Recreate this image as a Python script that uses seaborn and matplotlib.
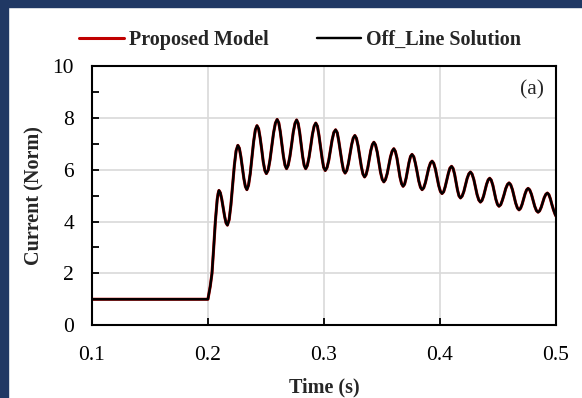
"""
Current response after the disturbance: proposed model vs off-line solution.
"""

import numpy as np
import pandas as pd
import matplotlib
matplotlib.use('Agg')
import matplotlib.pyplot as plt
from matplotlib.patches import Rectangle
from matplotlib.ticker import MultipleLocator
import seaborn as sns

# Pre-disturbance steady state
t_pre = [0.1000, 0.2000]
i_pre = [1.00, 1.00]

# Initial rise right after t = 0.2 s
t_rise = [0.2020, 0.2035, 0.2050, 0.2064, 0.2080, 0.2088]
i_rise = [1.50, 2.00, 3.00, 4.00, 4.85, 5.08]

# Oscillating part: one row per half cycle
# (extremum first, then the flank down/up to the next extremum)
t_osc = [
    0.2095, 0.2107, 0.2119, 0.2132, 0.2144, 0.2156,
    0.2168, 0.2183, 0.2198, 0.2213, 0.2228, 0.2243,
    0.2258, 0.2271, 0.2284, 0.2297, 0.2310, 0.2323,
    0.2336, 0.2350, 0.2365, 0.2380, 0.2394, 0.2409,
    0.2423, 0.2437, 0.2450, 0.2464, 0.2477, 0.2491,
    0.2504, 0.2520, 0.2535, 0.2551, 0.2566, 0.2582,
    0.2597, 0.2611, 0.2624, 0.2638, 0.2651, 0.2665,
    0.2678, 0.2692, 0.2707, 0.2722, 0.2736, 0.2751,
    0.2765, 0.2778, 0.2791, 0.2804, 0.2817, 0.2830,
    0.2843, 0.2857, 0.2872, 0.2887, 0.2901, 0.2916,
    0.2930, 0.2944, 0.2957, 0.2971, 0.2985, 0.2998,
    0.3012, 0.3027, 0.3042, 0.3057, 0.3071, 0.3086,
    0.3101, 0.3115, 0.3128, 0.3142, 0.3156, 0.3169,
    0.3183, 0.3197, 0.3211, 0.3225, 0.3239, 0.3253,
    0.3267, 0.3281, 0.3295, 0.3309, 0.3323, 0.3337,
    0.3351, 0.3364, 0.3378, 0.3391, 0.3404, 0.3418,
    0.3431, 0.3445, 0.3460, 0.3474, 0.3488, 0.3503,
    0.3517, 0.3531, 0.3546, 0.3560, 0.3574, 0.3589,
    0.3603, 0.3616, 0.3630, 0.3643, 0.3656, 0.3670,
    0.3683, 0.3696, 0.3709, 0.3722, 0.3734, 0.3747,
    0.3760, 0.3775, 0.3789, 0.3804, 0.3818, 0.3833,
    0.3847, 0.3861, 0.3876, 0.3890, 0.3904, 0.3919,
    0.3933, 0.3947, 0.3962, 0.3976, 0.3990, 0.4005,
    0.4019, 0.4033, 0.4046, 0.4060, 0.4074, 0.4087,
    0.4101, 0.4114, 0.4127, 0.4140, 0.4152, 0.4165,
    0.4178, 0.4192, 0.4207, 0.4221, 0.4235, 0.4250,
    0.4264, 0.4278, 0.4293, 0.4307, 0.4321, 0.4336,
    0.4350, 0.4363, 0.4377, 0.4390, 0.4403, 0.4417,
    0.4430, 0.4443, 0.4457, 0.4470, 0.4483, 0.4497,
    0.4510, 0.4525, 0.4539, 0.4554, 0.4568, 0.4583,
    0.4597, 0.4611, 0.4626, 0.4640, 0.4654, 0.4669,
    0.4683, 0.4696, 0.4709, 0.4722, 0.4735, 0.4748,
    0.4761, 0.4775, 0.4790, 0.4804, 0.4818, 0.4833,
    0.4847, 0.4860, 0.4874, 0.4887, 0.4900, 0.4914,
    0.4927, 0.4940, 0.4953, 0.4966, 0.4980, 0.4993,
    0.5000,
]
i_osc = [
    5.20, 5.11, 4.87, 4.53, 4.20, 3.95,
    3.86, 4.07, 4.63, 5.40, 6.17, 6.73,
    6.94, 6.83, 6.51, 6.09, 5.66, 5.35,
    5.23, 5.40, 5.85, 6.47, 7.08, 7.54,
    7.70, 7.58, 7.24, 6.78, 6.31, 5.97,
    5.85, 5.99, 6.37, 6.90, 7.42, 7.80,
    7.94, 7.81, 7.47, 6.99, 6.52, 6.17,
    6.04, 6.17, 6.51, 6.98, 7.45, 7.79,
    7.92, 7.79, 7.45, 6.98, 6.51, 6.17,
    6.04, 6.16, 6.48, 6.92, 7.36, 7.68,
    7.80, 7.68, 7.34, 6.89, 6.43, 6.09,
    5.97, 6.08, 6.36, 6.76, 7.15, 7.44,
    7.54, 7.43, 7.12, 6.71, 6.29, 5.98,
    5.87, 5.97, 6.23, 6.60, 6.96, 7.22,
    7.32, 7.21, 6.92, 6.52, 6.12, 5.83,
    5.72, 5.81, 6.06, 6.39, 6.73, 6.97,
    7.06, 6.96, 6.68, 6.30, 5.91, 5.63,
    5.53, 5.62, 5.85, 6.17, 6.49, 6.72,
    6.81, 6.71, 6.45, 6.09, 5.72, 5.46,
    5.36, 5.44, 5.67, 5.98, 6.28, 6.51,
    6.59, 6.50, 6.25, 5.91, 5.57, 5.32,
    5.23, 5.30, 5.51, 5.78, 6.06, 6.26,
    6.33, 6.25, 6.02, 5.71, 5.39, 5.16,
    5.08, 5.15, 5.34, 5.61, 5.87, 6.06,
    6.13, 6.05, 5.83, 5.52, 5.22, 4.99,
    4.91, 4.98, 5.16, 5.41, 5.66, 5.84,
    5.91, 5.83, 5.62, 5.33, 5.04, 4.83,
    4.75, 4.81, 4.98, 5.21, 5.44, 5.61,
    5.67, 5.60, 5.40, 5.13, 4.86, 4.66,
    4.59, 4.65, 4.82, 5.04, 5.27, 5.43,
    5.49, 5.42, 5.23, 4.97, 4.71, 4.52,
    4.45, 4.51, 4.66, 4.87, 5.07, 5.22,
    5.28, 5.22, 5.05, 4.82, 4.59, 4.42,
    4.36, 4.41, 4.55, 4.73, 4.92, 5.05,
    5.10, 5.04, 4.88, 4.66, 4.45, 4.29,
    4.22,
]

series_names = ['Proposed Model', 'Off_Line Solution']
series_colors = ['#c00000', '#000000']

# Both curves lie on top of each other
time = t_pre + t_rise + t_osc
current = i_pre + i_rise + i_osc
df = pd.DataFrame({'Time': time, 'Current': current})

sns.set_style('white')
plt.rcParams['font.family'] = ['Liberation Serif', 'DejaVu Serif']

fig = plt.figure(figsize=(5.82, 3.98), dpi=100)
ax = fig.add_axes([0.158, 0.183, 0.797, 0.651])

# Navy frame along the top and left edge
navy = '#203864'
fig.patches.append(Rectangle((0, 0), 8 / 582, 1, transform=fig.transFigure,
                             color=navy, zorder=0))
fig.patches.append(Rectangle((0, 1 - 7 / 398), 1, 7 / 398, transform=fig.transFigure,
                             color=navy, zorder=0))

line_kw = dict(sort=False, solid_joinstyle='round', solid_capstyle='round')
sns.lineplot(data=df, x='Time', y='Current', ax=ax, color=series_colors[0],
             linewidth=2.2, label=series_names[0], **line_kw)
sns.lineplot(data=df, x='Time', y='Current', ax=ax, color=series_colors[1],
             linewidth=1.75, label=series_names[1], **line_kw)

ax.set_xlim(0.1, 0.5)
ax.set_ylim(0, 10)
ax.yaxis.set_major_locator(MultipleLocator(2))
ax.yaxis.set_minor_locator(MultipleLocator(1))
ax.set_xticks([0.1, 0.2, 0.3, 0.4, 0.5])
ax.set_xticklabels(['0.1', '0.2', '0.3', '0.4', '0.5'])

ax.grid(True, which='major', color='#d9d9d9', linewidth=1.2)
ax.set_axisbelow(True)
for s in ax.spines.values():
    s.set_visible(True)
    s.set_color('black')
    s.set_linewidth(1.5)

ax.tick_params(axis='both', which='both', direction='in', labelsize=15.5,
               colors='black')
ax.tick_params(axis='y', which='both', length=5, width=1.3, left=True, pad=13)
ax.tick_params(axis='x', which='major', length=5, width=1.3, bottom=True, pad=15)

ax.set_xlabel('Time (s)', fontsize=14.5, fontweight='bold', labelpad=9)
ax.set_ylabel('Current (Norm)', fontsize=14.5, fontweight='bold', labelpad=6)

ax.text(0.975, 0.91, '(a)', transform=ax.transAxes, ha='right', va='center',
        fontsize=15.5)

ax.get_legend().remove()
handles, labels = ax.get_legend_handles_labels()
fig.legend(handles, labels, loc='center', bbox_to_anchor=(0.516, 0.90), ncol=2,
           frameon=False, handlelength=2.2, handletextpad=0.25, columnspacing=2.4,
           prop={'weight': 'bold', 'size': 14.5})

fig.savefig('out.png', dpi=100)
